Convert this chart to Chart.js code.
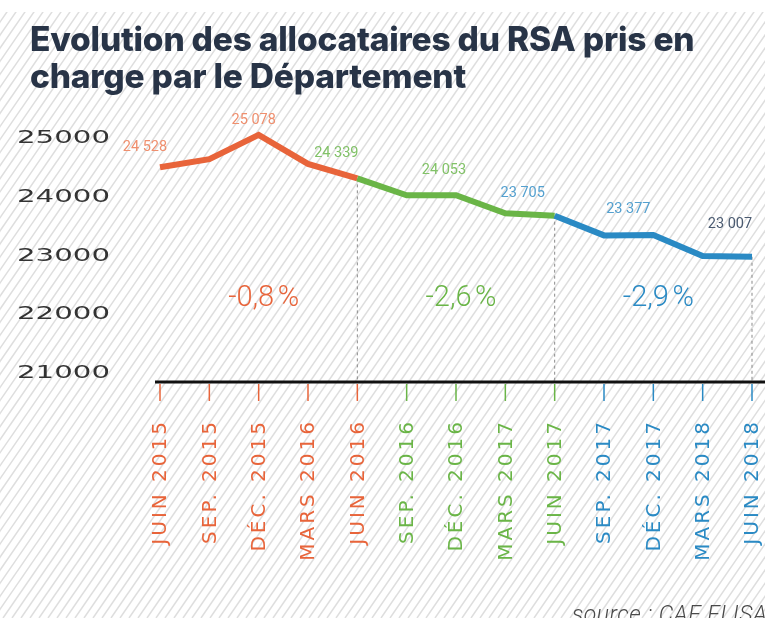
<!DOCTYPE html>
<html>
<head>
<meta charset="utf-8">
<script src="https://cdn.jsdelivr.net/npm/chart.js@4.4.1/dist/chart.umd.min.js"></script>
<style>
    html, body { margin: 0; padding: 0; background: #fff; }
    #wrap { width: 765px; height: 618px; position: relative; }
</style>
</head>
<body>
<div id="wrap"><canvas id="rsaChart" width="765" height="618"></canvas></div>
<script>
// data
const months = ['JUIN 2015', 'SEP. 2015', 'DÉC. 2015', 'MARS 2016', 'JUIN 2016', 'SEP. 2016', 'DÉC. 2016',
    'MARS 2017', 'JUIN 2017', 'SEP. 2017', 'DÉC. 2017', 'MARS 2018', 'JUIN 2018'];
const allocataires = [24528, 24665, 25078, 24585, 24339, 24050, 24053, 23745, 23705, 23370, 23377, 23020, 23007];
const yTicks = [21000, 22000, 23000, 24000, 25000];
const evolutions = ['-0,8\u202F%', '-2,6\u202F%', '-2,9\u202F%'];

const ORANGE = '#e8643a';
const GREEN = '#6ab547';
const BLUE = '#2a8ac4';

// which period a point belongs to (0, 1, 2)
function period(i) {
    if (i <= 4) return 0;
    if (i <= 8) return 1;
    return 2;
}
const periodColors = [ORANGE, GREEN, BLUE];
const labelColors = ['#ef8f6e', '#82c268', '#54a0cf'];

const decor = {
    id: 'decor',
    beforeDraw(chart) {
        const ctx = chart.ctx;
        ctx.save();
        ctx.fillStyle = '#fff';
        ctx.fillRect(0, 0, chart.width, chart.height);
        // hatched background
        ctx.beginPath();
        ctx.rect(0, 12, chart.width, chart.height - 12);
        ctx.clip();
        ctx.strokeStyle = '#dedede';
        ctx.lineWidth = 1.5;
        const h = chart.height;
        for (let x = -h; x < chart.width + 20; x += 9) {
            ctx.beginPath();
            ctx.moveTo(x, h);
            ctx.lineTo(x + h / 1.45, 0);
            ctx.stroke();
        }
        ctx.restore();

        // title
        ctx.save();
        ctx.fillStyle = '#283447';
        ctx.font = '800 33.5px Inter';
        ctx.letterSpacing = '-0.2px';
        ctx.textBaseline = 'alphabetic';
        ctx.fillText('Evolution des allocataires du RSA pris en', 30, 51);
        ctx.fillText('charge par le Département', 30, 88);
        ctx.restore();
    },
    beforeDatasetsDraw(chart) {
        const ctx = chart.ctx;
        const x = chart.scales.x;
        const y = chart.scales.y;
        const base = chart.chartArea.bottom;
        ctx.save();

        // y tick labels, wide type
        ctx.fillStyle = '#333';
        ctx.font = '17px "DejaVu Sans"';
        ctx.textAlign = 'right';
        ctx.textBaseline = 'middle';
        yTicks.forEach(v => {
            const py = y.getPixelForValue(v);
            ctx.save();
            ctx.translate(110, py - 1);
            ctx.scale(1.72, 1);
            ctx.fillText(String(v), 0, 0);
            ctx.restore();
        });

        // dashed separators
        ctx.strokeStyle = '#8a8a8a';
        ctx.lineWidth = 1;
        ctx.setLineDash([3, 3]);
        [4, 8, 12].forEach(i => {
            const px = x.getPixelForValue(i);
            ctx.beginPath();
            ctx.moveTo(px, y.getPixelForValue(allocataires[i]));
            ctx.lineTo(px, base);
            ctx.stroke();
        });
        ctx.setLineDash([]);

        // axis line
        ctx.strokeStyle = '#111';
        ctx.lineWidth = 3;
        ctx.beginPath();
        ctx.moveTo(155, base);
        ctx.lineTo(chart.width, base);
        ctx.stroke();

        // tick marks and rotated month labels
        ctx.font = '20px "DejaVu Sans"';
        ctx.letterSpacing = '3px';
        ctx.textAlign = 'right';
        ctx.textBaseline = 'middle';
        months.forEach((m, i) => {
            const px = x.getPixelForValue(i);
            const c = periodColors[period(i)];
            ctx.strokeStyle = c;
            ctx.lineWidth = 1.5;
            ctx.beginPath();
            ctx.moveTo(px, base + 2);
            ctx.lineTo(px, base + 19);
            ctx.stroke();
            ctx.save();
            ctx.translate(px + 1, base + 37);
            ctx.rotate(-Math.PI / 2);
            ctx.fillStyle = c;
            ctx.fillText(m, 0, 0);
            ctx.restore();
        });

        // period evolution
        ctx.font = '300 29px Roboto';
        ctx.letterSpacing = '2px';
        ctx.textAlign = 'center';
        ctx.textBaseline = 'middle';
        [2, 6, 10].forEach((i, k) => {
            ctx.fillStyle = periodColors[k];
            ctx.fillText(evolutions[k], x.getPixelForValue(i) + 5, y.getPixelForValue(22300));
        });

        // source
        ctx.font = 'italic 300 23px Roboto';
        ctx.letterSpacing = '0.5px';
        ctx.fillStyle = '#4a4a4a';
        ctx.textAlign = 'left';
        ctx.textBaseline = 'alphabetic';
        ctx.fillText('source : CAF ELISA', 572, 622);
        ctx.restore();
    },
    afterDatasetsDraw(chart) {
        const ctx = chart.ctx;
        const x = chart.scales.x;
        const y = chart.scales.y;
        // value labels every six months, placed up-left of the point
        const shifts = {0: [-15, -20], 2: [-5, -14], 4: [-21, -25], 6: [-12, -25], 8: [-32, -22], 10: [-25, -26], 12: [-22, -32]};
        const colors = {0: labelColors[0], 2: labelColors[0], 4: labelColors[1], 6: labelColors[1], 8: labelColors[2], 10: labelColors[2], 12: '#4a5a70'};
        ctx.save();
        ctx.font = '14.5px Roboto';
        ctx.textAlign = 'center';
        ctx.textBaseline = 'middle';
        Object.keys(shifts).forEach(k => {
            const i = Number(k);
            const v = allocataires[i];
            const txt = Math.floor(v / 1000) + ' ' + String(v % 1000).padStart(3, '0');
            ctx.fillStyle = colors[i];
            ctx.fillText(txt, x.getPixelForValue(i) + shifts[i][0], y.getPixelForValue(v) + shifts[i][1]);
        });
        ctx.restore();
    }
};

const rsactx = document.getElementById('rsaChart').getContext('2d');
const rsaChart = new Chart(rsactx, {
    type: 'line',
    data: {
        labels: months,
        datasets: [{
            label: 'Allocataires du RSA',
            data: allocataires,
            borderWidth: 6,
            borderColor: ORANGE,
            pointRadius: 0,
            tension: 0,
            clip: false,
            segment: {
                borderColor: c => periodColors[period(c.p1DataIndex)]
            }
        }]
    },
    options: {
        responsive: false,
        animation: false,
        layout: {
            padding: { left: 160, right: 13, top: 110, bottom: 236 }
        },
        plugins: {
            legend: { display: false },
            tooltip: { enabled: false }
        },
        scales: {
            x: { display: false, offset: false },
            y: { display: false, min: 20880, max: 25500 }
        }
    },
    plugins: [decor]
});
</script>
</body>
</html>
